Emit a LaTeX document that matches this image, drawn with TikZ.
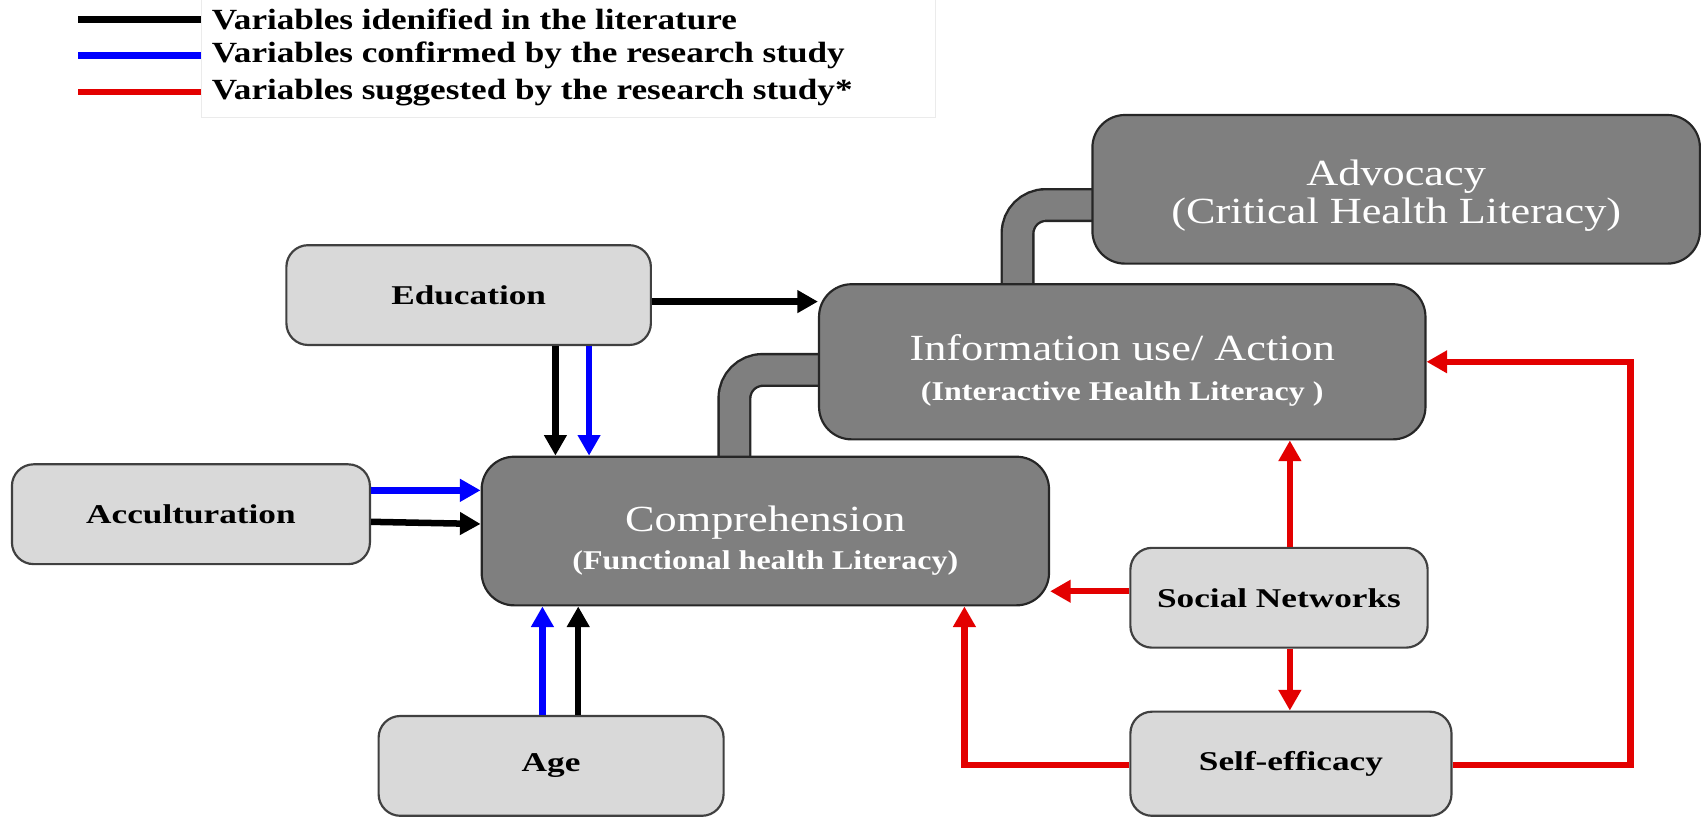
\documentclass[tikz,border=0pt]{standalone}
\usepackage{fontspec}
\setmainfont{Liberation Serif}
\newfontfamily\lblfont{Liberation Serif}[FakeStretch=1.3]
\newfontfamily\legfont{Liberation Serif}[FakeStretch=1.2]
\newfontfamily\ttlfont{Liberation Serif}[FakeStretch=1.2]
\newfontfamily\subfont{Liberation Serif}[FakeStretch=1.18]
\usetikzlibrary{arrows.meta,calc}
\definecolor{darkfill}{HTML}{7F7F7F}
\definecolor{lightfill}{HTML}{D9D9D9}
\definecolor{redline}{HTML}{E30000}
\definecolor{blueline}{HTML}{0000FF}
\begin{document}
\begin{tikzpicture}[x=1pt,y=-1pt,
  darkbox/.style={draw=black!85, line width=2pt, fill=darkfill, rounded corners=30pt, text=white, align=center, inner sep=0pt},
  lightbox/.style={draw=black!75, line width=2pt, fill=lightfill, rounded corners=20pt, align=center, inner sep=0pt, font=\lblfont\bfseries\fontsize{25}{30}\selectfont},
  pipe/.style={draw=black!85, line width=2.2pt, double=darkfill, double distance=27pt, rounded corners=26pt},
  conn/.style={line width=6pt, -{Triangle[width=20pt,length=19pt]}},
  blk/.style={conn, draw=black},
  blu/.style={conn, draw=blueline},
  rd/.style={conn, draw=redline},
  legline/.style={line width=6pt},
  legtext/.style={anchor=west, inner sep=0pt, font=\legfont\bfseries\fontsize{27}{30}\selectfont}
]
\useasboundingbox (0,0) rectangle (1568,756);

% legend
\draw[black!8, line width=1pt] (186,0) -- (186,108) -- (862,108) -- (862,0);
\node[legtext] (l1) at (195,18) {Variables idenified in the literature};
\node[legtext] (l2) at (195,51) {Variables confirmed by the research study};
\node[legtext] (l3) at (195,85) {Variables suggested by the research study*};
\coordinate (c1) at (72,18);
\coordinate (c2) at (72,51);
\coordinate (c3) at (72,85);
\draw[legline, black] (c1) -- (l1.west -| 185,0);
\draw[legline, blueline] (c2) -- (l2.west -| 185,0);
\draw[legline, redline] (c3) -- (l3.west -| 185,0);

% pipes between the literacy levels
\coordinate (p1s) at (677,445);
\coordinate (p1c) at (677,341);
\coordinate (p1e) at (775,341);
\coordinate (p2s) at (938,280);
\coordinate (p2c) at (938,189);
\coordinate (p2e) at (1025,189);
\draw[pipe] (p1s) -- (p1c) -- (p1e);
\draw[pipe] (p2s) -- (p2c) -- (p2e);

% boxes
\node[darkbox, minimum width=560pt, minimum height=137pt, font=\ttlfont\fontsize{34}{35}\selectfont] (adv) at (1287,174.5) {\rule{0pt}{36pt}Advocacy\\(Critical Health Literacy)};
\node[darkbox, minimum width=559pt, minimum height=143pt, font=\ttlfont\fontsize{34}{37}\selectfont] (info) at (1034.5,333.5) {\rule{0pt}{40pt}Information use/ Action\\{\subfont\bfseries\fontsize{25}{28}\selectfont (Interactive Health Literacy )}};
\node[darkbox, minimum width=523pt, minimum height=137pt, font=\ttlfont\fontsize{34}{35}\selectfont] (comp) at (705.5,489.5) {\rule{0pt}{41pt}Comprehension\\{\subfont\bfseries\fontsize{25}{28}\selectfont (Functional health Literacy)}};
\node[lightbox, minimum width=336pt, minimum height=92pt] (edu) at (432,272) {Education};
\node[lightbox, minimum width=330pt, minimum height=92pt] (acc) at (176,474) {Acculturation};
\node[lightbox, minimum width=318pt, minimum height=92pt] (age) at (508,706) {Age};
\node[lightbox, minimum width=274pt, minimum height=92pt] (soc) at (1179,551) {Social Networks};
\node[lightbox, minimum width=296pt, minimum height=96pt] (self) at (1190,704) {Self-efficacy};

% black / blue arrows
\draw[blk] (edu.east |- 0,278) -- (info.west |- 0,278);
\draw[blk] (edu.south -| 512,0) -- (comp.north -| 512,0);
\draw[blu] (edu.south -| 543,0) -- (comp.north -| 543,0);
\draw[blu] (acc.east |- 0,452) -- (comp.west |- 0,452);
\draw[blk] (acc.east |- 0,481) -- (comp.west |- 0,483);
\draw[blu] (age.north -| 500,0) -- (comp.south -| 500,0);
\draw[blk] (age.north -| 533,0) -- (comp.south -| 533,0);

% red arrows
\draw[rd] (soc.north -| 1189,0) -- (info.south -| 1189,0);
\draw[rd] (soc.west |- 0,545) -- (comp.east |- 0,545);
\draw[rd] (soc.south -| 1189,0) -- (self.north -| 1189,0);
\draw[rd] (self.west |- 0,705) -| (comp.south -| 889,0);
\coordinate (rc) at (1503,333.5);
\draw[rd] (self.east |- 0,705) -| (rc) -- (info.east);
\end{tikzpicture}
\end{document}
